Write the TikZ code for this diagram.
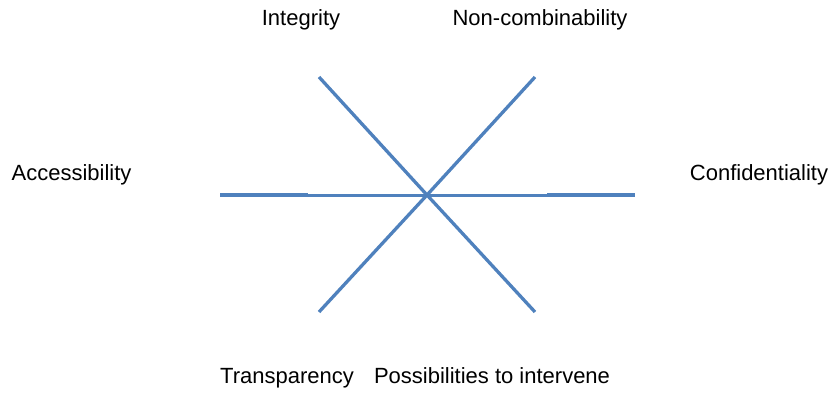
\documentclass[tikz,border=0pt]{standalone}
\usepackage{fontspec}
\setmainfont{Liberation Sans}
\definecolor{lineblue}{HTML}{4F81BD}
\begin{document}
\begin{tikzpicture}[x=1pt,y=-1pt,
  lbl/.style={anchor=base,inner sep=0pt,font=\fontsize{22}{26}\selectfont},
  spoke/.style={draw=lineblue,line width=3.3pt},
  hspoke/.style={draw=lineblue,line width=3pt},
  hend/.style={draw=lineblue,line width=4pt}]
\useasboundingbox (0,0) rectangle (837,394);
% labels
\node[lbl] (integ) at (301,25) {Integrity};
\node[lbl] (noncomb) at (540,25) {Non-combinability};
\node[lbl] (access) at (71.5,180) {Accessibility};
\node[lbl] (conf) at (759,180) {Confidentiality};
\node[lbl] (transp) at (287,383) {Transparency};
\node[lbl] (interv) at (492,383) {Possibilities to intervene};
% spoke geometry
\coordinate (c) at (427,195);
\coordinate (tl) at (319,77);
\coordinate (tr) at (535,77);
\coordinate (bl) at (319,312);
\coordinate (br) at (535,312);
\coordinate (l) at (220,195);
\coordinate (r) at (635,195);
\coordinate (lm) at (308,195);
\coordinate (rm) at (547,195);
% lines
\draw[hspoke] (l) -- (r);
\draw[hend] (l) -- (lm);
\draw[hend] (rm) -- (r);
\draw[spoke] (tl) -- (c) -- (br);
\draw[spoke] (tr) -- (c) -- (bl);
\end{tikzpicture}
\end{document}
